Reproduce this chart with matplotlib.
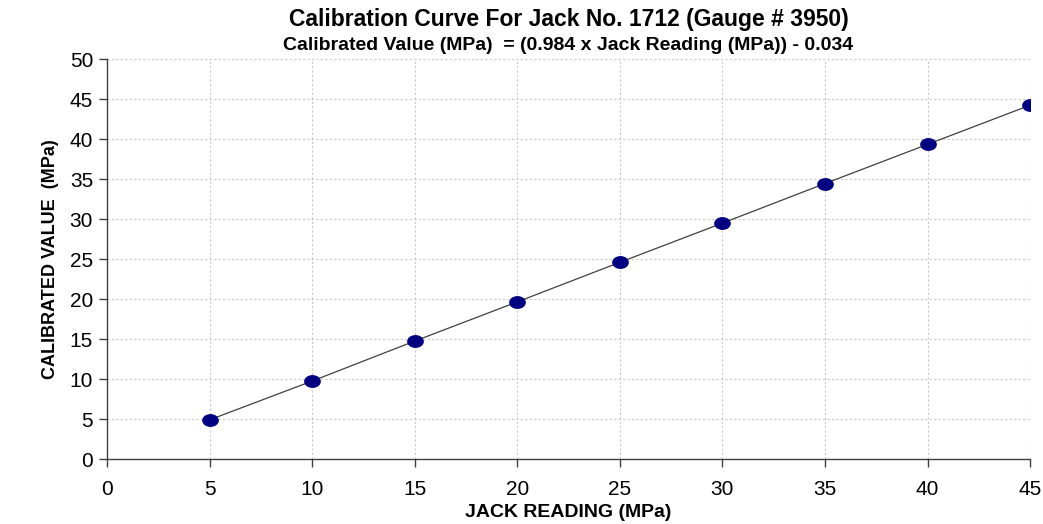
import matplotlib.pyplot as plt
from matplotlib.path import Path
import numpy as np

# readings from the calibration chart
jack_reading = [5, 10, 15, 20, 25, 30, 35, 40, 45]
calibrated = [4.9, 9.75, 14.75, 19.65, 24.6, 29.5, 34.45, 39.35, 44.25]

x_ticks = list(range(0, 50, 5))
y_ticks = list(range(0, 55, 5))

title = "Calibration Curve For Jack No. 1712 (Gauge # 3950)"
subtitle = "Calibrated Value (MPa)  = (0.984 x Jack Reading (MPa)) - 0.034"

plt.rcParams["font.family"] = ["Liberation Sans", "DejaVu Sans"]

# slightly flattened dot like the original
circ = Path.unit_circle()
ellipse = Path(circ.vertices * np.array([1.0, 0.75]), circ.codes)

fig = plt.figure(figsize=(10.43, 5.24), dpi=100)
ax = fig.add_axes([0.1026, 0.124, 0.885, 0.763])

ax.plot(jack_reading, calibrated, color="#404040", linewidth=0.9, zorder=2)
ax.plot(jack_reading, calibrated, linestyle="none", marker=ellipse,
        markersize=11, color="#000080", zorder=3)

ax.set_xlim(0, 45)
ax.set_ylim(0, 50)
ax.set_xticks(x_ticks)
ax.set_yticks(y_ticks)
ax.grid(True, color="#c8c8c8", linestyle=(0, (2, 2)), linewidth=0.8)
ax.set_axisbelow(True)

for side in ["top", "right"]:
    ax.spines[side].set_visible(False)
for side in ["left", "bottom"]:
    ax.spines[side].set_color("#404040")
    ax.spines[side].set_linewidth(1.0)

ax.tick_params(axis="both", direction="out", length=6, width=1, color="#404040",
               labelsize=15)
ax.tick_params(axis="y", pad=4)
ax.tick_params(axis="x", pad=9)

ax.set_xlabel("JACK READING (MPa)", fontsize=14, fontweight="bold", labelpad=4)
ax.set_ylabel("CALIBRATED VALUE  (MPa)", fontsize=13, fontweight="bold",
              labelpad=8)

fig.text(0.545, 0.962, title, ha="center", va="center", fontsize=16.5,
         fontweight="bold")
fig.text(0.545, 0.914, subtitle, ha="center", va="center", fontsize=14,
         fontweight="bold")

fig.savefig("out.png", dpi=100)
